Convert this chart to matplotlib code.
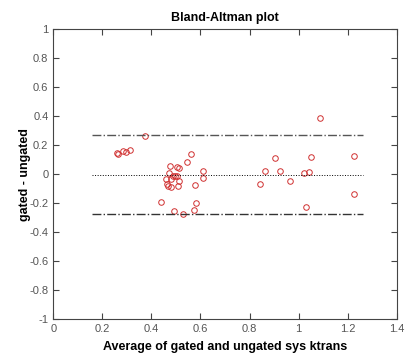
#!/usr/bin/env python3

"""
Bland-Altman plot of gated vs ungated sys ktrans.
"""

import numpy as np
import matplotlib
matplotlib.use('Agg')
import matplotlib.pyplot as plt

#data
avg = [0.258, 0.265, 0.285, 0.296, 0.313, 0.372,
       0.563, 0.544, 0.476, 0.506, 0.514, 0.609, 0.473, 0.612,
       0.487, 0.496, 0.503, 0.460, 0.479, 0.514, 0.462, 0.469,
       0.481, 0.508, 0.579, 0.440, 0.582, 0.492, 0.574, 0.530,
       0.844, 0.862, 0.904, 0.925, 0.965, 1.022, 1.043, 1.031,
       1.052, 1.087, 1.228, 1.228]
diff = [0.143, 0.136, 0.157, 0.152, 0.168, 0.267,
        0.140, 0.087, 0.057, 0.048, 0.041, 0.021, 0.011, -0.028,
        -0.012, -0.016, -0.016, -0.035, -0.035, -0.044, -0.067, -0.081,
        -0.086, -0.079, -0.072, -0.191, -0.196, -0.253, -0.247, -0.274,
        -0.069, 0.021, 0.115, 0.025, -0.044, 0.009, 0.014, -0.228,
        0.122, 0.389, 0.127, -0.138]
mean_diff = -0.005
upper_loa = 0.272
lower_loa = -0.277
line_span = [0.156, 1.262]

xticks = [0, 0.2, 0.4, 0.6, 0.8, 1, 1.2, 1.4]
yticks = [-1, -0.8, -0.6, -0.4, -0.2, 0, 0.2, 0.4, 0.6, 0.8, 1]


def main():
    plt.rcParams['font.family'] = ['Liberation Sans', 'DejaVu Sans']

    fig = plt.figure(figsize=(4.1, 3.54), dpi=100)
    ax = fig.add_axes([0.130, 0.099, 0.8375, 0.818])

    ax.plot(avg, diff, 'o', mfc='none', mec='#d03030', ms=4, mew=0.7)
    ax.plot(line_span, [mean_diff, mean_diff], ':', color='black', lw=0.7)
    ax.plot(line_span, [upper_loa, upper_loa], '-.', color='#555555', lw=1.0)
    ax.plot(line_span, [lower_loa, lower_loa], '-.', color='#333333', lw=1.0)

    ax.set_xlim(0, 1.4)
    ax.set_ylim(-1, 1)
    ax.set_xticks(xticks)
    ax.set_xticklabels([f'{t:g}' for t in xticks])
    ax.set_yticks(yticks)
    ax.set_yticklabels([f'{t:g}' for t in yticks])
    ax.tick_params(direction='in', top=True, right=True, length=4,
                   labelsize=8, labelcolor='#555555', color='#444444')
    for s in ax.spines.values():
        s.set_color('#444444')
        s.set_linewidth(0.8)

    ax.set_xlabel('Average of gated and ungated sys ktrans',
                  fontsize=9, fontweight='bold', labelpad=5)
    ax.set_ylabel('gated - ungated', fontsize=9, fontweight='bold',
                  labelpad=-1)
    ax.set_title('Bland-Altman plot', fontsize=9, fontweight='bold', pad=6)

    fig.savefig('out.png', dpi=100)


if __name__ == '__main__':
    main()
